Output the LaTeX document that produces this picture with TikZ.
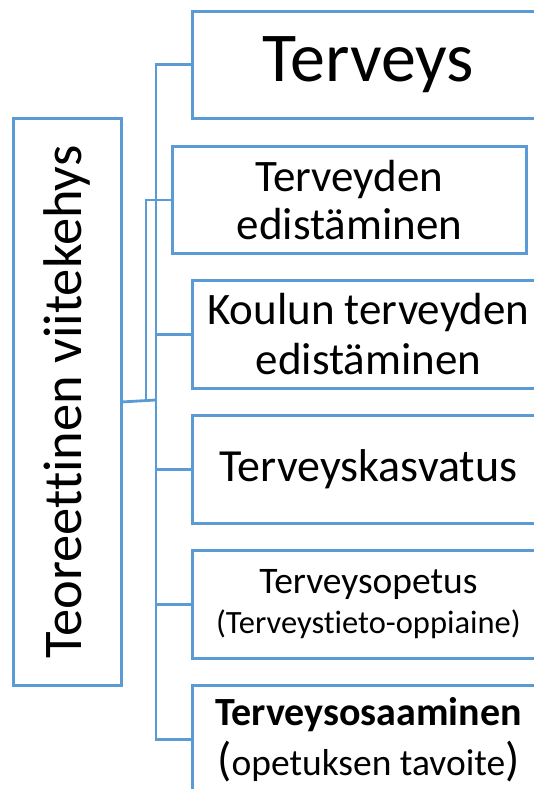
\documentclass[tikz,border=0pt]{standalone}
\usepackage{fontspec}
\setmainfont{Carlito}[Ligatures=NoCommon]
\definecolor{frameblue}{HTML}{5B9BD5}
\tikzset{>=stealth,
  frame/.style={draw=frameblue, line width=2.8pt, inner sep=0pt, anchor=north west, align=center},
  wire/.style={draw=frameblue, line width=2.8pt}}

\begin{document}
\begin{tikzpicture}[x=1pt, y=-1pt]
\useasboundingbox (0,0) rectangle (534,789);
\clip (0,0) rectangle (534,789);
\node[frame, minimum width=108pt, minimum height=567pt] (theory) at (12,117) {};
\node[rotate=90, font=\fontsize{54.5}{54.5}\selectfont] at (theory.center) {Teoreettinen viitekehys};
\node[frame, minimum width=352pt, minimum height=107pt, font=\fontsize{70}{70}\selectfont] (health) at (191,10) {Terveys};
\node[frame, minimum width=354pt, minimum height=107pt, font=\fontsize{45}{48}\selectfont] (promo) at (171,145) {Terveyden\\edistäminen};
\node[frame, minimum width=352pt, minimum height=108pt, font=\fontsize{45}{50}\selectfont] (school) at (191,279) {Koulun terveyden\\edistäminen};
\node[frame, minimum width=352pt, minimum height=108pt, font=\fontsize{46}{46}\selectfont] (educ) at (191,414) {Terveyskasvatus};
\node[frame, minimum width=352pt, minimum height=108pt, font=\fontsize{37.5}{40}\selectfont] (teach) at (191,549) {Terveysopetus\\{\fontsize{32.5}{32.5}\selectfont(Terveystieto-oppiaine)}};
\node[frame, minimum width=352pt, minimum height=108pt, font=\fontsize{40}{50}\selectfont] (skill) at (191,684) {\textbf{Terveysosaaminen}\\{\fontsize{47}{47}\selectfont(}{\fontsize{37.5}{37.5}\selectfont opetuksen tavoite}{\fontsize{47}{47}\selectfont)}};
\coordinate (bus) at (156,400);
\coordinate (bus2) at (146,400);
\draw[wire] (theory.east) -- (bus);
\draw[wire] (bus) |- (health.west);
\draw[wire] (bus2) |- (promo.west);
\draw[wire] (bus) |- (school.west);
\draw[wire] (bus) |- (educ.west);
\draw[wire] (bus) |- (teach.west);
\draw[wire] (bus) |- (skill.west);
\end{tikzpicture}
\end{document}
